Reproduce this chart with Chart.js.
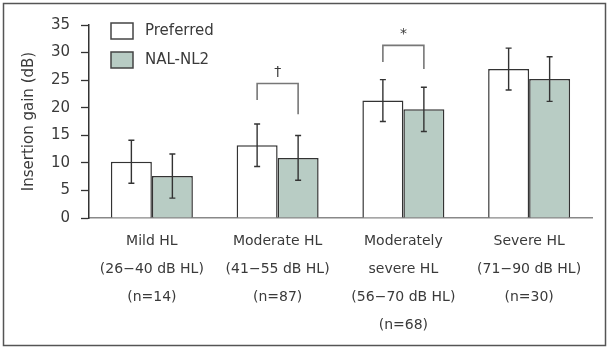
<!DOCTYPE html>
<html>
<head>
<meta charset="utf-8">
<script src="https://cdn.jsdelivr.net/npm/chart.js@4"></script>
<style>
  html, body { margin: 0; padding: 0; background: #fff; }
  #wrap { position: relative; width: 611px; height: 351px; }
</style>
</head>
<body>
<div id="wrap"><canvas id="gainChart" width="611" height="351"></canvas></div>
<script>
// Hearing loss groups (x axis, multi-line labels)
const categories = [
    ['Mild HL', '(26\u221240 dB HL)', '(n=14)'],
    ['Moderate HL', '(41\u221255 dB HL)', '(n=87)'],
    ['Moderately', 'severe HL', '(56\u221270 dB HL)', '(n=68)'],
    ['Severe HL', '(71\u221290 dB HL)', '(n=30)']
];
const preferredGain = [10.2, 13.2, 21.3, 27.0];
const preferredSD = [3.9, 3.85, 3.8, 3.8];
const nalGain = [7.6, 10.9, 19.7, 25.2];
const nalSD = [4.0, 4.05, 4.0, 4.05];
const yTicks = [0, 5, 10, 15, 20, 25, 30, 35];

// significance brackets: group index, top, left leg end, right leg end, mark
const bracketGroup = [1, 2];
const bracketTop = [24.4, 31.3];
const bracketLeft = [21.4, 28.3];
const bracketRight = [18.8, 27.0];
const bracketMark = ['\u2020', '*'];

const FONT = '"DejaVu Sans", sans-serif';
const TEXT = '#3a3a3a';

const extras = {
    id: 'extras',
    beforeDraw(chart) {
        const c = chart.ctx;
        c.save();
        c.fillStyle = '#fff';
        c.fillRect(0, 0, chart.width, chart.height);
        c.strokeStyle = '#555';
        c.lineWidth = 1.5;
        c.strokeRect(3.5, 3.5, 602, 342);
        c.restore();
    },
    afterDatasetsDraw(chart) {
        const c = chart.ctx;
        const y = chart.scales.y;
        c.save();
        // error bars
        c.strokeStyle = '#333';
        c.lineWidth = 1.4;
        [[0, preferredGain, preferredSD], [1, nalGain, nalSD]].forEach(([ds, vals, sds]) => {
            chart.getDatasetMeta(ds).data.forEach((bar, i) => {
                const top = y.getPixelForValue(vals[i] + sds[i]);
                const bot = y.getPixelForValue(vals[i] - sds[i]);
                c.beginPath();
                c.moveTo(bar.x, top); c.lineTo(bar.x, bot);
                c.moveTo(bar.x - 3, top); c.lineTo(bar.x + 3, top);
                c.moveTo(bar.x - 3, bot); c.lineTo(bar.x + 3, bot);
                c.stroke();
            });
        });
        // brackets
        c.strokeStyle = '#777';
        c.lineWidth = 1.6;
        c.fillStyle = TEXT;
        c.font = '14px ' + FONT;
        c.textAlign = 'center';
        c.textBaseline = 'middle';
        bracketGroup.forEach((g, k) => {
            const x1 = chart.getDatasetMeta(0).data[g].x;
            const x2 = chart.getDatasetMeta(1).data[g].x;
            const yt = y.getPixelForValue(bracketTop[k]);
            c.beginPath();
            c.moveTo(x1, y.getPixelForValue(bracketLeft[k]));
            c.lineTo(x1, yt);
            c.lineTo(x2, yt);
            c.lineTo(x2, y.getPixelForValue(bracketRight[k]));
            c.stroke();
            c.fillText(bracketMark[k], (x1 + x2) / 2, yt - 11);
        });
        // legend
        c.lineWidth = 1.5;
        c.strokeStyle = '#444';
        c.textAlign = 'left';
        c.font = '15px ' + FONT;
        chart.data.datasets.forEach((ds, i) => {
            const ly = 23 + i * 29;
            c.fillStyle = ds.backgroundColor;
            c.fillRect(111, ly, 22, 16);
            c.strokeRect(111, ly, 22, 16);
            c.fillStyle = TEXT;
            c.fillText(ds.label, 145, ly + 8);
        });
        c.restore();
    }
};

const chart = new Chart(document.getElementById('gainChart'), {
    type: 'bar',
    data: {
        labels: categories,
        datasets: [{
            label: 'Preferred',
            data: preferredGain,
            backgroundColor: '#ffffff',
            borderColor: '#333',
            borderWidth: 1.5
        }, {
            label: 'NAL-NL2',
            data: nalGain,
            backgroundColor: '#b8ccc4',
            borderColor: '#333',
            borderWidth: 1.5
        }]
    },
    options: {
        responsive: false,
        animation: false,
        devicePixelRatio: 1,
        categoryPercentage: 0.652,
        barPercentage: 1,
        layout: { padding: { left: 20, top: 25, right: 19, bottom: 0 } },
        plugins: { legend: { display: false }, tooltip: { enabled: false } },
        scales: {
            x: {
                grid: { display: false, drawTicks: false },
                border: { color: '#888', width: 1.6 },
                ticks: {
                    color: TEXT,
                    font: { family: FONT, size: 14, lineHeight: 2.0 },
                    padding: 9,
                    maxRotation: 0,
                    autoSkip: false
                },
                afterFit(scale) { scale.height = 133; }
            },
            y: {
                min: 0,
                max: 35,
                afterBuildTicks(scale) { scale.ticks = yTicks.map(v => ({ value: v })); },
                grid: { display: true, drawOnChartArea: false, drawTicks: true, tickLength: 8, tickColor: '#333', tickWidth: 1.3 },
                border: { color: '#333', width: 1.5 },
                ticks: {
                    color: TEXT,
                    font: { family: FONT, size: 15 },
                    padding: 11
                },
                title: {
                    display: true,
                    text: 'Insertion gain (dB)',
                    color: TEXT,
                    font: { family: FONT, size: 15 },
                    padding: 0
                },
                afterFit(scale) { scale.width = 69; }
            }
        }
    },
    plugins: [extras]
});
</script>
</body>
</html>
